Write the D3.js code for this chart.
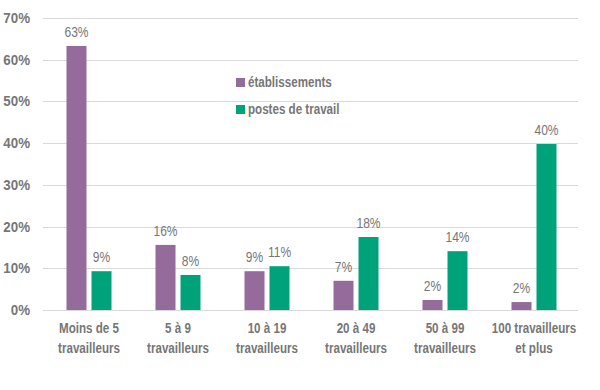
<!DOCTYPE html>
<html><head><meta charset="utf-8">
<script src="https://cdn.jsdelivr.net/npm/d3@7"></script>
<style>
body{margin:0;background:#fff;}
text{font-family:"Liberation Sans",Arial,sans-serif;fill:#767676;}
</style></head><body>
<svg id="c" width="600" height="390"></svg>
<script>
const categories = [["Moins de 5","travailleurs"],["5 à 9","travailleurs"],["10 à 19","travailleurs"],["20 à 49","travailleurs"],["50 à 99","travailleurs"],["100 travailleurs","et plus"]];
const seriesNames = ["établissements","postes de travail"];
const etablissements = [63.3, 15.6, 9.3, 7.0, 2.4, 1.9];
const postes = [9.3, 8.4, 10.5, 17.5, 14.1, 39.8];
const labelsEtab = ["63%","16%","9%","7%","2%","2%"];
const labelsPostes = ["9%","8%","11%","18%","14%","40%"];
const yTicks = [0,10,20,30,40,50,60,70];
const colors = ["#946b9a","#00a27a"];

const tf = (x,y,s)=>`translate(${x},${y}) scale(${s||0.8},1)`;

const svg = d3.select("#c");
const x = d3.scaleBand().domain(d3.range(categories.length)).range([44.5,578.5]);
const y = d3.scaleLinear().domain([0,70]).range([310,18]);
const sub = d3.scaleBand().domain([0,1]).range([-22.5,22.5]).paddingInner(0.2).paddingOuter(0);

// grid
svg.append("g").selectAll("line").data(yTicks).join("line")
  .attr("x1",43).attr("x2",578).attr("y1",d=>Math.round(y(d))+0.5).attr("y2",d=>Math.round(y(d))+0.5)
  .attr("stroke","#d9d9d9").attr("stroke-width",1);
// y labels
svg.append("g").selectAll("text").data(yTicks).join("text")
  .attr("transform",d=>tf(30,y(d)+5,0.92)).attr("text-anchor","end")
  .attr("font-size",14.5).attr("font-weight","bold").text(d=>d+"%");

const series = [etablissements, postes];
const labs = [labelsEtab, labelsPostes];
series.forEach((vals,si)=>{
  const g = svg.append("g");
  g.selectAll("rect").data(vals).join("rect")
    .attr("x",(d,i)=>x(i)+x.bandwidth()/2+sub(si))
    .attr("width",sub.bandwidth())
    .attr("y",d=>y(d)).attr("height",d=>y(0)-y(d))
    .attr("fill",colors[si]);
  g.selectAll("text").data(vals).join("text")
    .attr("transform",(d,i)=>tf(x(i)+x.bandwidth()/2+sub(si)+sub.bandwidth()/2, y(d)-9, 0.86))
    .attr("text-anchor","middle")
    .attr("font-size",14).text((d,i)=>labs[si][i]);
});

// x labels
const xl = svg.append("g").selectAll("text").data(categories).join("text")
  .attr("transform",(d,i)=>tf(x(i)+x.bandwidth()/2,333)).attr("text-anchor","middle")
  .attr("font-size",14.5).attr("font-weight","bold");
xl.selectAll("tspan").data(d=>d).join("tspan")
  .attr("x",0).attr("dy",(d,i)=>i?20:0).text(d=>d);

// legend
const lg = svg.append("g");
seriesNames.forEach((n,i)=>{
  lg.append("rect").attr("x",236).attr("y",78+i*27).attr("width",9).attr("height",9).attr("fill",colors[i]);
  lg.append("text").attr("transform",tf(248,87+i*27)).attr("font-size",14.5).attr("font-weight","bold").text(n);
});
</script></body></html>
